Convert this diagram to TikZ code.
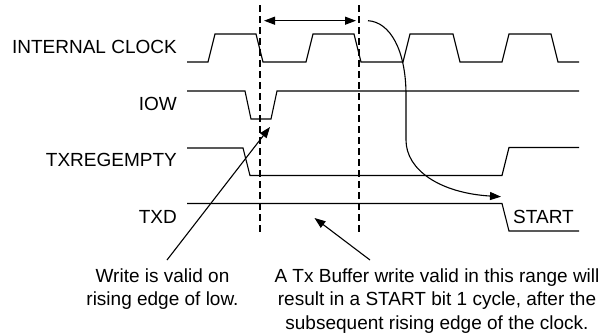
\documentclass[tikz,border=0pt]{standalone}
\usepackage{fontspec}
\setmainfont{Liberation Sans}
\usetikzlibrary{arrows.meta}
\begin{document}
\begin{tikzpicture}[x=1pt,y=-1pt,
  wave/.style={line width=1.1pt,line join=miter},
  guide/.style={line width=2pt,dash pattern=on 7pt off 4pt},
  ann/.style={line width=1.1pt,-{Triangle[length=11pt,width=8pt]}},
  sig/.style={anchor=east,inner sep=0pt,text height=13.6pt,text depth=0pt,font=\fontsize{19}{23.5}\selectfont},
  note/.style={anchor=north,inner sep=0pt,align=center,font=\fontsize{19}{23.5}\selectfont}]
\useasboundingbox (0,0) rectangle (606,335);
% signal labels
\node[sig] (lclk) at (177,47) {INTERNAL CLOCK};
\node[sig] (liow) at (177,104) {IOW};
\node[sig] (ltxr) at (177,159.5) {TXREGEMPTY};
\node[sig] (ltxd) at (177,217) {TXD};
\node[sig,anchor=west] (lstart) at (513,217) {START};
% waveforms
\draw[wave] (187,62) -- (208,62) -- (215,34) -- (256,34) -- (263,62) -- (306,62) -- (313,34) -- (354,34) -- (361,62) -- (403,62) -- (410,34) -- (453,34) -- (460,62) -- (502,62) -- (509,34) -- (551,34) -- (558,62) -- (579,62);
\draw[wave] (187,91) -- (245,91) -- (251,119) -- (271,119) -- (277,91) -- (579,91);
\draw[wave] (187,148) -- (243,148) -- (250,175.5) -- (502,175.5) -- (509,147.5) -- (579,147.5);
\draw[wave] (187,203.5) -- (502,203.5) -- (509,231) -- (579,231);
% guides
\coordinate (g1t) at (259.5,5);
\coordinate (g1b) at (259.5,232);
\coordinate (g2t) at (358.5,5);
\coordinate (g2b) at (358.5,232);
\draw[guide] (g1t) -- (g1b);
\draw[guide] (g2t) -- (g2b);
\coordinate (ra) at (264,20.7);
\coordinate (rb) at (356,20.7);
\draw[line width=1.1pt,{Triangle[length=11pt,width=8pt]}-{Triangle[length=11pt,width=8pt]}] (ra) -- (rb);
% curved arrow
\coordinate (cs) at (368,20.7);
\coordinate (ce) at (501,196.7);
\draw[ann] (cs) .. controls (390,22) and (406,50) .. (406,95) -- (406,140) .. controls (406,170) and (440,193) .. (ce);
% notes
\node[note] (nw) at (162.5,268.5) {Write is valid on\\rising edge of low.};
\node[note] (nr) at (437,268.5) {A Tx Buffer write valid in this range will\\result in a START bit 1 cycle, after the\\subsequent rising edge of the clock.};
\coordinate (aw) at (167,260);
\coordinate (tw) at (270,127);
\coordinate (ar) at (370,260);
\coordinate (tr) at (314.5,218);
\draw[ann] (aw) -- (tw);
\draw[ann] (ar) -- (tr);
\end{tikzpicture}
\end{document}
